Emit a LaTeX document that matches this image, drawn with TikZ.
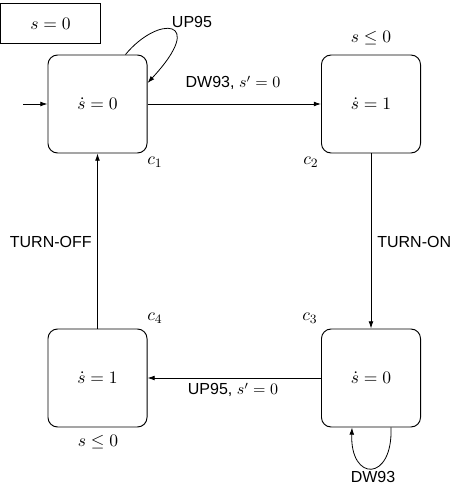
\documentclass[tikz,border=0pt]{standalone}
\usepackage{fontspec}
\newfontfamily\lab{Liberation Sans}
\usetikzlibrary{arrows.meta,calc}
\begin{document}
\begin{tikzpicture}[x=0.625pt,y=-0.625pt,
  state/.style={draw, rounded corners=6pt, minimum width=61.9pt, minimum height=61.25pt, inner sep=0pt, line width=0.6pt, font=\fontsize{10.8}{13}\selectfont},
  lbl/.style={font=\lab, inner sep=0pt},
  mlbl/.style={inner sep=0pt, font=\fontsize{10.8}{13}\selectfont},
  edge/.style={draw, line width=0.5pt, -{Latex[length=4.5pt,width=3pt]}}
]
\useasboundingbox (0,0) rectangle (449,488);
\node[draw, line width=0.6pt, minimum width=63pt, minimum height=24.4pt, inner sep=0pt, font=\fontsize{10.8}{13}\selectfont] (inv) at (50.5,23.5) {$s=0$};

\node[state] (c1) at (97.5,104) {$\dot s=0$};
\node[state] (c2) at (371,104) {$\dot s=1$};
\node[state] (c3) at (371,378) {$\dot s=0$};
\node[state] (c4) at (97.5,378) {$\dot s=1$};

\node[mlbl] (n1) at (155,162) {$c_1$};
\node[mlbl] (n2) at (311,162) {$c_2$};
\node[mlbl] (n3) at (310,318) {$c_3$};
\node[mlbl] (n4) at (155,318) {$c_4$};

\node[mlbl] (inv2) at (371,38) {$s\leq 0$};
\node[mlbl] (inv4) at (98,442) {$s\leq 0$};

\coordinate (init) at (23,104);
\draw[edge] (init) -- (c1);

\draw[edge] (c1) -- (c2);
\draw[edge] (c2) -- (c3);
\draw[edge] (c3) -- (c4);
\draw[edge] (c4) -- (c1);

\node[lbl] (l12) at (233,83) {DW93, $s'=0$};
\node[lbl, anchor=west] (l23) at (377,242) {TURN-ON};
\node[lbl] (l34) at (233,390) {UP95, $s'=0$};
\node[lbl, anchor=east] (l41) at (92,242) {TURN-OFF};

\draw[edge] ($(c1.north)+(28,0)$) .. controls (158,15) and (208,18) .. ($(c1.east)+(0,-21)$);
\node[lbl] (lup) at (192,21.5) {UP95};

\draw[edge] ($(c3.south)+(20,0)$) .. controls (393,482) and (350,482) .. ($(c3.south)+(-19,0)$);
\node[lbl] (ldw) at (373,477) {DW93};
\end{tikzpicture}
\end{document}
